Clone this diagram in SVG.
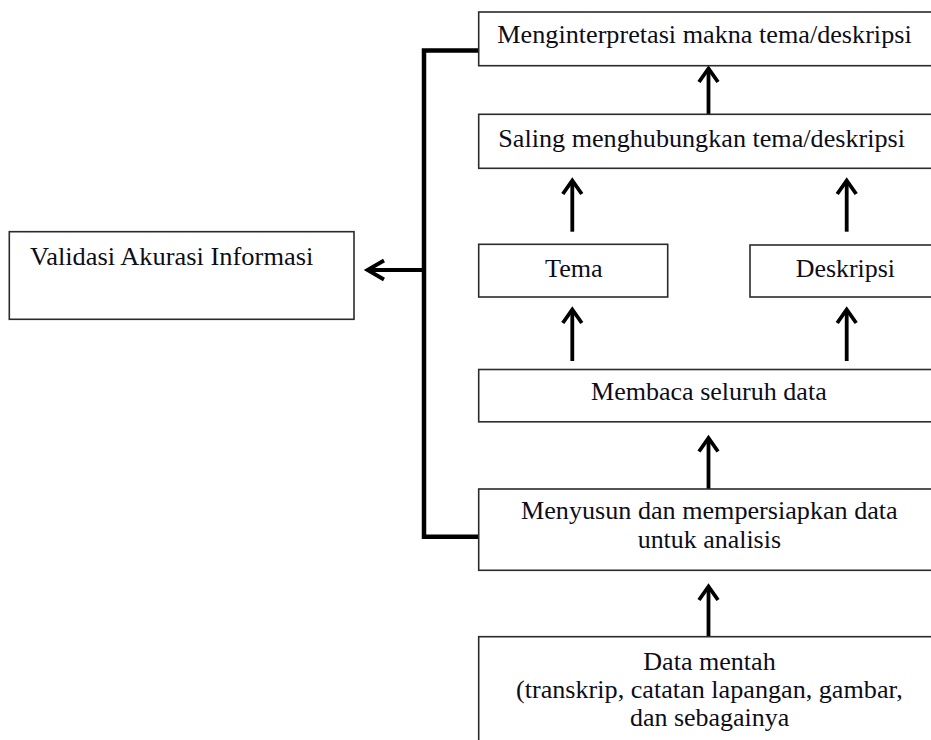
<svg xmlns="http://www.w3.org/2000/svg" width="931" height="740" viewBox="0 0 931 740">
<style>
.box{fill:#fff;stroke:#2b2b2b;stroke-width:1.6}
.t{font-family:"Liberation Serif","Times New Roman",serif;font-size:25px;fill:#0d0d18}
.bracket{fill:none;stroke:#000;stroke-width:4.5}
.shaft{fill:none;stroke:#000;stroke-width:3.8}
.head{fill:none;stroke:#000;stroke-width:3.8;stroke-linejoin:miter;stroke-linecap:butt}
</style>
<rect width="931" height="740" fill="#fff"/>
<g id="connectors">
<path class="bracket" d="M479,50.5 H424 V536.8 H479"/>
<line class="shaft" x1="422" y1="270" x2="368" y2="270"/>
<path class="head" d="M384,260.5 L367.5,270 L384,279.5"/>
<line class="shaft" x1="708.5" y1="114.3" x2="708.5" y2="69"/>
<path class="head" d="M699,82 L708.5,68.5 L718,82"/>
<line class="shaft" x1="572.3" y1="231.7" x2="572.3" y2="181"/>
<path class="head" d="M562.8,194 L572.3,180.5 L581.8,194"/>
<line class="shaft" x1="846.7" y1="231.7" x2="846.7" y2="181"/>
<path class="head" d="M837.2,194 L846.7,180.5 L856.2,194"/>
<line class="shaft" x1="572.3" y1="361" x2="572.3" y2="310"/>
<path class="head" d="M562.8,323 L572.3,309.5 L581.8,323"/>
<line class="shaft" x1="846.7" y1="361" x2="846.7" y2="310"/>
<path class="head" d="M837.2,323 L846.7,309.5 L856.2,323"/>
<line class="shaft" x1="708.5" y1="489" x2="708.5" y2="438.5"/>
<path class="head" d="M699,451.5 L708.5,438 L718,451.5"/>
<line class="shaft" x1="708.5" y1="636.7" x2="708.5" y2="587"/>
<path class="head" d="M699,600 L708.5,586.5 L718,600"/>
</g>
<g id="interpretasi">
<rect class="box" x="478.7" y="12" width="462" height="53.7"/>
<text class="t" x="497.3" y="43.3" textLength="414.4" lengthAdjust="spacingAndGlyphs">Menginterpretasi makna tema/deskripsi</text>
</g>
<g id="menghubungkan">
<rect class="box" x="478.7" y="114.3" width="462" height="54"/>
<text class="t" x="498.3" y="146.7" textLength="406.7" lengthAdjust="spacingAndGlyphs">Saling menghubungkan tema/deskripsi</text>
</g>
<g id="validasi">
<rect class="box" x="9.3" y="231.7" width="344.7" height="87.6"/>
<text class="t" x="30" y="265" textLength="283.3" lengthAdjust="spacingAndGlyphs">Validasi Akurasi Informasi</text>
</g>
<g id="tema">
<rect class="box" x="478.7" y="244.3" width="189" height="52.7"/>
<text class="t" x="545" y="276.7" textLength="57.7" lengthAdjust="spacingAndGlyphs">Tema</text>
</g>
<g id="deskripsi">
<rect class="box" x="750" y="245" width="191" height="52"/>
<text class="t" x="795.7" y="276.7" textLength="99.3" lengthAdjust="spacingAndGlyphs">Deskripsi</text>
</g>
<g id="membaca">
<rect class="box" x="478.7" y="369.5" width="462" height="52.3"/>
<text class="t" x="591" y="400" textLength="235.7" lengthAdjust="spacingAndGlyphs">Membaca seluruh data</text>
</g>
<g id="menyusun">
<rect class="box" x="478.7" y="489" width="462" height="81.3"/>
<text class="t" x="521" y="519.3" textLength="376.7" lengthAdjust="spacingAndGlyphs">Menyusun dan mempersiapkan data</text>
<text class="t" x="637.7" y="548.3" textLength="143.3" lengthAdjust="spacingAndGlyphs">untuk analisis</text>
</g>
<g id="data-mentah">
<rect class="box" x="478.7" y="636.7" width="462" height="130"/>
<text class="t" x="643.3" y="670" textLength="132.4" lengthAdjust="spacingAndGlyphs">Data mentah</text>
<text class="t" x="516" y="698.3" textLength="386.7" lengthAdjust="spacingAndGlyphs">(transkrip, catatan lapangan, gambar,</text>
<text class="t" x="630" y="725.5" textLength="159.3" lengthAdjust="spacingAndGlyphs">dan sebagainya</text>
</g>
</svg>
